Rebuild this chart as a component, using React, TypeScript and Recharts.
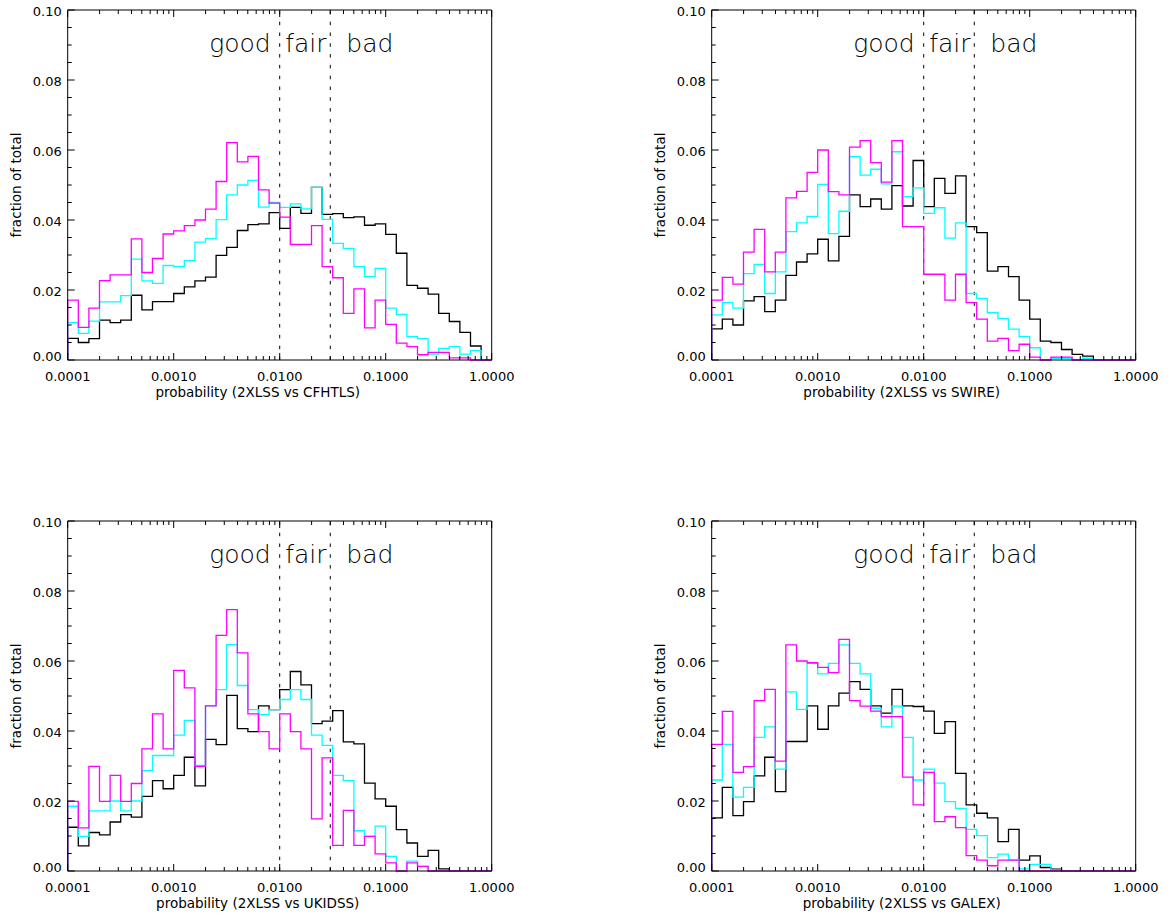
import React from 'react';
import { ComposedChart, Line, XAxis, YAxis, ReferenceLine } from 'recharts';

// ---------- histogram binning (log10 probability) ----------
const BIN_START_LOG = -4;
const BIN_WIDTH_DEX = 0.1;
const N_BINS = 40;

// ---------- series values (fraction of total per bin) ----------
const cfhtlsMagenta = [0.0171, 0.0093, 0.0148, 0.0227, 0.0243, 0.0243, 0.0346, 0.0250, 0.0290, 0.0360, 0.0369, 0.0384, 0.0400, 0.0431, 0.0510, 0.0621, 0.0566, 0.0582, 0.0486, 0.0448, 0.0408, 0.0330, 0.0330, 0.0384, 0.0267, 0.0235, 0.0133, 0.0203, 0.0092, 0.0171, 0.0102, 0.0048, 0.0038, 0.0015, 0.0022, 0.0022, 0.0006, 0.0006, 0, 0];
const cfhtlsCyan = [0.0107, 0.0076, 0.0111, 0.0166, 0.0166, 0.0184, 0.0288, 0.0226, 0.0219, 0.0270, 0.0267, 0.0284, 0.0337, 0.0347, 0.0401, 0.0472, 0.0500, 0.0513, 0.0437, 0.0450, 0.0436, 0.0446, 0.0432, 0.0493, 0.0402, 0.0333, 0.0319, 0.0267, 0.0238, 0.0262, 0.0148, 0.0130, 0.0067, 0.0061, 0.0017, 0.0033, 0.0038, 0.0017, 0.0027, 0];
const cfhtlsBlack = [0.0062, 0.0050, 0.0061, 0.0114, 0.0107, 0.0114, 0.0185, 0.0143, 0.0167, 0.0167, 0.0190, 0.0209, 0.0226, 0.0237, 0.0299, 0.0322, 0.0370, 0.0387, 0.0389, 0.0421, 0.0376, 0.0436, 0.0419, 0.0493, 0.0416, 0.0418, 0.0407, 0.0409, 0.0385, 0.0389, 0.0359, 0.0305, 0.0213, 0.0205, 0.0188, 0.0133, 0.0110, 0.0079, 0.0040, 0];

const swireMagenta = [0.0171, 0.0236, 0.0217, 0.0308, 0.0373, 0.0252, 0.0308, 0.0463, 0.0482, 0.0536, 0.0600, 0.0481, 0.0472, 0.0608, 0.0627, 0.0564, 0.0508, 0.0627, 0.0381, 0.0381, 0.0245, 0.0245, 0.0171, 0.0245, 0.0164, 0.0117, 0.0054, 0.0062, 0.0027, 0.0045, 0.0008, 0, 0.0008, 0.0008, 0, 0, 0, 0, 0, 0];
const swireCyan = [0.0129, 0.0164, 0.0148, 0.0247, 0.0273, 0.0190, 0.0252, 0.0367, 0.0392, 0.0410, 0.0502, 0.0361, 0.0425, 0.0581, 0.0528, 0.0545, 0.0503, 0.0595, 0.0467, 0.0492, 0.0419, 0.0435, 0.0348, 0.0392, 0.0190, 0.0176, 0.0135, 0.0118, 0.0088, 0.0067, 0.0035, 0, 0.0005, 0.0005, 0, 0.0005, 0, 0, 0, 0];
const swireBlack = [0.0089, 0.0117, 0.0100, 0.0169, 0.0181, 0.0138, 0.0171, 0.0242, 0.0280, 0.0303, 0.0345, 0.0283, 0.0353, 0.0472, 0.0438, 0.0460, 0.0431, 0.0498, 0.0440, 0.0570, 0.0438, 0.0519, 0.0476, 0.0526, 0.0381, 0.0364, 0.0254, 0.0267, 0.0238, 0.0171, 0.0117, 0.0054, 0.0050, 0.0030, 0.0016, 0.0011, 0, 0, 0, 0];

const ukidssMagenta = [0.0199, 0.0123, 0.0299, 0.0199, 0.0273, 0.0199, 0.0250, 0.0349, 0.0449, 0.0349, 0.0573, 0.0523, 0.0299, 0.0472, 0.0673, 0.0747, 0.0623, 0.0449, 0.0398, 0.0349, 0.0449, 0.0398, 0.0349, 0.0149, 0.0323, 0.0073, 0.0173, 0.0073, 0.0099, 0.0049, 0.0023, 0, 0.0023, 0.0013, 0, 0, 0, 0, 0, 0];
const ukidssCyan = [0.0185, 0.0099, 0.0172, 0.0172, 0.0200, 0.0172, 0.0200, 0.0287, 0.0330, 0.0330, 0.0388, 0.0430, 0.0302, 0.0472, 0.0518, 0.0647, 0.0530, 0.0461, 0.0447, 0.0461, 0.0490, 0.0518, 0.0490, 0.0388, 0.0359, 0.0273, 0.0258, 0.0115, 0.0099, 0.0128, 0.0042, 0, 0.0028, 0.0013, 0, 0, 0, 0, 0, 0];
const ukidssBlack = [0.0125, 0.0072, 0.0110, 0.0103, 0.0140, 0.0161, 0.0154, 0.0213, 0.0258, 0.0235, 0.0273, 0.0325, 0.0243, 0.0376, 0.0361, 0.0502, 0.0407, 0.0398, 0.0472, 0.0461, 0.0518, 0.0570, 0.0532, 0.0421, 0.0428, 0.0458, 0.0369, 0.0363, 0.0251, 0.0206, 0.0185, 0.0118, 0.0080, 0.0042, 0.0059, 0.0006, 0, 0, 0, 0];

const galexMagenta = [0.0362, 0.0456, 0.0282, 0.0298, 0.0487, 0.0519, 0.0314, 0.0646, 0.0600, 0.0595, 0.0582, 0.0567, 0.0662, 0.0487, 0.0471, 0.0457, 0.0441, 0.0441, 0.0268, 0.0189, 0.0282, 0.0141, 0.0155, 0.0124, 0.0044, 0.0031, 0.0015, 0.0031, 0.0031, 0, 0, 0, 0, 0, 0, 0, 0, 0, 0, 0];
const galexCyan = [0.0260, 0.0362, 0.0211, 0.0239, 0.0382, 0.0412, 0.0291, 0.0512, 0.0462, 0.0593, 0.0563, 0.0593, 0.0646, 0.0593, 0.0563, 0.0465, 0.0412, 0.0471, 0.0382, 0.0260, 0.0291, 0.0251, 0.0198, 0.0179, 0.0119, 0.0101, 0.0038, 0.0048, 0.0031, 0.0006, 0.0019, 0.0019, 0.0003, 0, 0, 0, 0, 0, 0, 0];
const galexBlack = [0.0152, 0.0239, 0.0158, 0.0198, 0.0272, 0.0325, 0.0227, 0.0370, 0.0370, 0.0472, 0.0405, 0.0472, 0.0508, 0.0541, 0.0519, 0.0472, 0.0451, 0.0519, 0.0472, 0.0470, 0.0457, 0.0393, 0.0427, 0.0279, 0.0189, 0.0165, 0.0152, 0.0084, 0.0119, 0.0031, 0.0043, 0.0010, 0.0005, 0, 0, 0, 0, 0, 0, 0];

// ---------- axis ticks / labels ----------
const X_DOMAIN: [number, number] = [0.0001, 1];
const X_MAJOR_TICKS = [0.0001, 0.001, 0.01, 0.1, 1];
const X_MINOR_MULTIPLIERS = [2, 3, 4, 5, 6, 7, 8, 9];
const Y_DOMAIN: [number, number] = [0, 0.1];
const Y_MAJOR_STEP = 0.02;
const Y_MINOR_STEP = 0.005;
const CLASS_BOUNDARIES = [0.01, 0.03];
const CLASS_LABELS = ['good', 'fair', 'bad'];
const Y_TITLE = 'fraction of total';
const X_TITLES = [
  'probability (2XLSS vs CFHTLS)',
  'probability (2XLSS vs SWIRE)',
  'probability (2XLSS vs UKIDSS)',
  'probability (2XLSS vs GALEX)',
];

const X_TICKS: number[] = [];
X_MAJOR_TICKS.forEach((d, i) => {
  X_TICKS.push(d);
  if (i < X_MAJOR_TICKS.length - 1) X_MINOR_MULTIPLIERS.forEach((m) => X_TICKS.push(m * d));
});
const Y_TICKS: number[] = [];
for (let i = 0; i <= Math.round((Y_DOMAIN[1] - Y_DOMAIN[0]) / Y_MINOR_STEP); i++) {
  Y_TICKS.push(+(Y_DOMAIN[0] + i * Y_MINOR_STEP).toFixed(4));
}

const isDecade = (v: number) => Math.abs(Math.log10(v) - Math.round(Math.log10(v))) < 1e-6;
const isMajorY = (v: number) => Math.abs(v / Y_MAJOR_STEP - Math.round(v / Y_MAJOR_STEP)) < 1e-6;

// ---------- styles ----------
const FONT = '"DejaVu Sans", Verdana, sans-serif';
const COLORS = { magenta: '#ff00ff', cyan: '#00ffff', black: '#000000' };
const MAJOR_LEN = 7;
const MINOR_LEN = 4;
const LINE_W = 1.3;

const PANELS = [
  { title: X_TITLES[0], magenta: cfhtlsMagenta, cyan: cfhtlsCyan, black: cfhtlsBlack },
  { title: X_TITLES[1], magenta: swireMagenta, cyan: swireCyan, black: swireBlack },
  { title: X_TITLES[2], magenta: ukidssMagenta, cyan: ukidssCyan, black: ukidssBlack },
  { title: X_TITLES[3], magenta: galexMagenta, cyan: galexCyan, black: galexBlack },
];
const PANEL_POS = [
  { left: 0, top: 0 },
  { left: 644, top: 0 },
  { left: 0, top: 511 },
  { left: 644, top: 511 },
];

function buildRows(m: number[], c: number[], k: number[]) {
  const rows: { x: number; m: number; c: number; k: number }[] = [];
  rows.push({ x: Math.pow(10, BIN_START_LOG), m: 0, c: 0, k: 0 });
  for (let i = 0; i < N_BINS; i++) {
    rows.push({ x: Math.pow(10, BIN_START_LOG + i * BIN_WIDTH_DEX), m: m[i], c: c[i], k: k[i] });
  }
  rows.push({
    x: Math.pow(10, BIN_START_LOG + N_BINS * BIN_WIDTH_DEX),
    m: m[N_BINS - 1],
    c: c[N_BINS - 1],
    k: k[N_BINS - 1],
  });
  return rows;
}

const BottomTick = (props: any) => {
  const { x, y, payload } = props;
  const v = payload.value;
  const major = isDecade(v);
  return (
    <g>
      <line x1={x} y1={y} x2={x} y2={y - (major ? MAJOR_LEN : MINOR_LEN)} stroke="#000" strokeWidth={1} />
      {major ? (
        <text x={x} y={y + 20.5} textAnchor="middle" fontSize={13} fontFamily={FONT} fill="#000">
          {v.toFixed(4)}
        </text>
      ) : null}
    </g>
  );
};

const TopTick = (props: any) => {
  const { x, y, payload } = props;
  const major = isDecade(payload.value);
  return <line x1={x} y1={y} x2={x} y2={y + (major ? MAJOR_LEN : MINOR_LEN)} stroke="#000" strokeWidth={1} />;
};

const LeftTick = (props: any) => {
  const { x, y, payload } = props;
  const v = payload.value;
  const major = isMajorY(v);
  const shift = Math.abs(v) < 1e-9 ? -3.5 : 1;
  return (
    <g>
      <line x1={x} y1={y} x2={x + (major ? MAJOR_LEN : MINOR_LEN)} y2={y} stroke="#000" strokeWidth={1} />
      {major ? (
        <text x={x - 6} y={y + 4.7 + shift} textAnchor="end" fontSize={13} fontFamily={FONT} fill="#000">
          {v.toFixed(2)}
        </text>
      ) : null}
    </g>
  );
};

const RightTick = (props: any) => {
  const { x, y, payload } = props;
  const major = isMajorY(payload.value);
  return <line x1={x} y1={y} x2={x - (major ? MAJOR_LEN : MINOR_LEN)} y2={y} stroke="#000" strokeWidth={1} />;
};

const classText = (x: number, y: number, txt: string, anchor: 'start' | 'end') => (
  <text
    x={x}
    y={y}
    textAnchor={anchor}
    fontSize={25}
    fontWeight={200}
    fontFamily={FONT}
    fill="#000"
  >
    {txt}
  </text>
);

const LabelAtFirstBoundary = (props: any) => {
  const vb = props.viewBox || {};
  const x = vb.x ?? 0;
  const y = (vb.y ?? 0) + 42;
  return (
    <g>
      {classText(x - 9, y, CLASS_LABELS[0], 'end')}
      {classText(x + 5.5, y, CLASS_LABELS[1], 'start')}
    </g>
  );
};

const LabelAtSecondBoundary = (props: any) => {
  const vb = props.viewBox || {};
  const x = vb.x ?? 0;
  const y = (vb.y ?? 0) + 42;
  return <g>{classText(x + 16, y, CLASS_LABELS[2], 'start')}</g>;
};

function Panel({ idx }: { idx: number }) {
  const p = PANELS[idx];
  const pos = PANEL_POS[idx];
  const rows = buildRows(p.magenta, p.cyan, p.black);
  return (
    <div style={{ position: 'absolute', left: pos.left, top: pos.top }}>
      <ComposedChart
        width={585}
        height={457}
        data={rows}
        margin={{ top: 0, right: 83.3, bottom: 57, left: 0 }}
      >
        <XAxis
          xAxisId="bottom"
          dataKey="x"
          type="number"
          scale="log"
          domain={X_DOMAIN}
          ticks={X_TICKS}
          interval={0}
          tickSize={0}
          tickMargin={0}
          tickLine={false}
          axisLine={{ stroke: '#000', strokeWidth: 1 }}
          tick={<BottomTick />}
          height={40}
          orientation="bottom"
          label={(lp: any) => {
            const vb = lp.viewBox || {};
            return (
              <text
                x={(vb.x ?? 67.7) + 190}
                y={(vb.y ?? 360) + 37.3}
                textAnchor="middle"
                fontSize={13.5}
                fontFamily={FONT}
                fill="#000"
              >
                {p.title}
              </text>
            );
          }}
        />
        <XAxis
          xAxisId="top"
          dataKey="x"
          type="number"
          scale="log"
          domain={X_DOMAIN}
          ticks={X_TICKS}
          interval={0}
          tickSize={0}
          tickMargin={0}
          tickLine={false}
          axisLine={{ stroke: '#000', strokeWidth: 1 }}
          tick={<TopTick />}
          height={10}
          orientation="top"
        />
        <YAxis
          yAxisId="left"
          type="number"
          domain={Y_DOMAIN}
          ticks={Y_TICKS}
          interval={0}
          tickSize={0}
          tickMargin={0}
          tickLine={false}
          axisLine={{ stroke: '#000', strokeWidth: 1 }}
          tick={<LeftTick />}
          width={67.7}
          orientation="left"
          label={(lp: any) => {
            const vb = lp.viewBox || {};
            const cx = (vb.x ?? 0) + 20.5;
            const cy = (vb.y ?? 10) + (vb.height ?? 350) / 2;
            return (
              <text
                x={cx}
                y={cy}
                transform={`rotate(-90, ${cx}, ${cy})`}
                textAnchor="middle"
                fontSize={13.6}
                fontFamily={FONT}
                fill="#000"
              >
                {Y_TITLE}
              </text>
            );
          }}
        />
        <YAxis
          yAxisId="right"
          type="number"
          domain={Y_DOMAIN}
          ticks={Y_TICKS}
          interval={0}
          tickSize={0}
          tickMargin={0}
          tickLine={false}
          axisLine={{ stroke: '#000', strokeWidth: 1 }}
          tick={<RightTick />}
          width={10}
          orientation="right"
        />
        <ReferenceLine
          xAxisId="bottom"
          yAxisId="left"
          x={CLASS_BOUNDARIES[0]}
          stroke="#000"
          strokeWidth={1}
          strokeDasharray="3.5 7.3"
          label={LabelAtFirstBoundary}
        />
        <ReferenceLine
          xAxisId="bottom"
          yAxisId="left"
          x={CLASS_BOUNDARIES[1]}
          stroke="#000"
          strokeWidth={1}
          strokeDasharray="3.5 7.3"
          label={LabelAtSecondBoundary}
        />
        <Line
          xAxisId="bottom"
          yAxisId="left"
          dataKey="k"
          type="stepAfter"
          stroke={COLORS.black}
          strokeWidth={LINE_W}
          dot={false}
          activeDot={false}
          isAnimationActive={false}
        />
        <Line
          xAxisId="bottom"
          yAxisId="left"
          dataKey="c"
          type="stepAfter"
          stroke={COLORS.cyan}
          strokeWidth={LINE_W}
          dot={false}
          activeDot={false}
          isAnimationActive={false}
        />
        <Line
          xAxisId="bottom"
          yAxisId="left"
          dataKey="m"
          type="stepAfter"
          stroke={COLORS.magenta}
          strokeWidth={LINE_W}
          dot={false}
          activeDot={false}
          isAnimationActive={false}
        />
      </ComposedChart>
    </div>
  );
}

export default function App() {
  return (
    <div
      style={{
        position: 'absolute',
        left: 0,
        top: 0,
        width: 1171,
        height: 914,
        background: '#fff',
        overflow: 'hidden',
      }}
    >
      {PANELS.map((_, i) => (
        <Panel key={i} idx={i} />
      ))}
    </div>
  );
}
